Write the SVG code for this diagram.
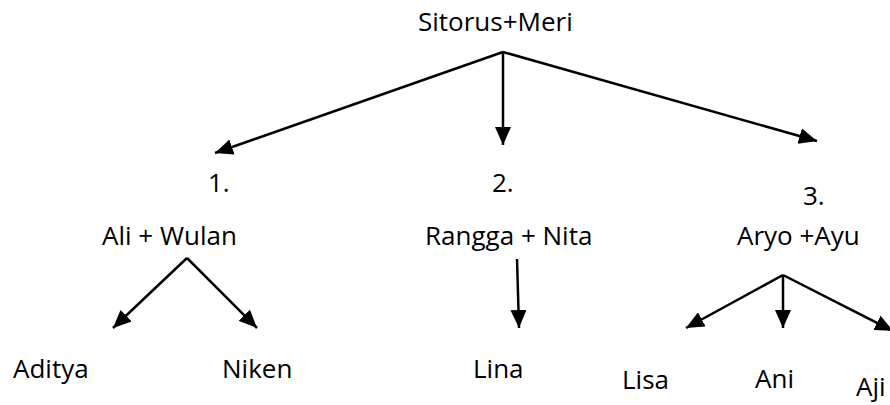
<svg xmlns="http://www.w3.org/2000/svg" width="890" height="405" viewBox="0 0 890 405">
  <style>
    text { font-family: "Open Sans", "Liberation Sans", sans-serif; font-size: 26px; fill: #000; }
    .edge { stroke: #000; stroke-width: 2.5; fill: none; marker-end: url(#arrow); }
  </style>
  <defs>
    <marker id="arrow" markerUnits="userSpaceOnUse" markerWidth="19" markerHeight="16" refX="18" refY="8" orient="auto">
      <path d="M0,0 L18,8 L0,16 Z" fill="#000"/>
    </marker>
  </defs>
  <rect width="890" height="405" fill="#fff"/>
  <g id="connectors">
    <line class="edge" x1="503" y1="52" x2="215" y2="153"/>
    <line class="edge" x1="503" y1="52" x2="503" y2="145"/>
    <line class="edge" x1="503" y1="52" x2="817" y2="141"/>
    <line class="edge" x1="187" y1="258" x2="113" y2="328"/>
    <line class="edge" x1="187" y1="258" x2="257" y2="328"/>
    <line class="edge" x1="517" y1="259" x2="519" y2="328"/>
    <line class="edge" x1="783" y1="275" x2="686" y2="328"/>
    <line class="edge" x1="783" y1="275" x2="783" y2="328"/>
    <line class="edge" x1="783" y1="275" x2="893" y2="331"/>
  </g>
  <g id="sitorus-meri"><text x="418" y="31">Sitorus+Meri</text></g>
  <g id="ali-wulan">
    <text x="208" y="192">1.</text>
    <text x="102" y="245">Ali + Wulan</text>
  </g>
  <g id="rangga-nita">
    <text x="492" y="192">2.</text>
    <text x="425" y="245">Rangga + Nita</text>
  </g>
  <g id="aryo-ayu">
    <text x="803" y="205">3.</text>
    <text x="737" y="245">Aryo +Ayu</text>
  </g>
  <g id="aditya"><text x="13" y="378">Aditya</text></g>
  <g id="niken"><text x="222" y="378">Niken</text></g>
  <g id="lina"><text x="473" y="378">Lina</text></g>
  <g id="lisa"><text x="622" y="389">Lisa</text></g>
  <g id="ani"><text x="755" y="388">Ani</text></g>
  <g id="aji"><text x="856" y="396">Aji</text></g>
</svg>
